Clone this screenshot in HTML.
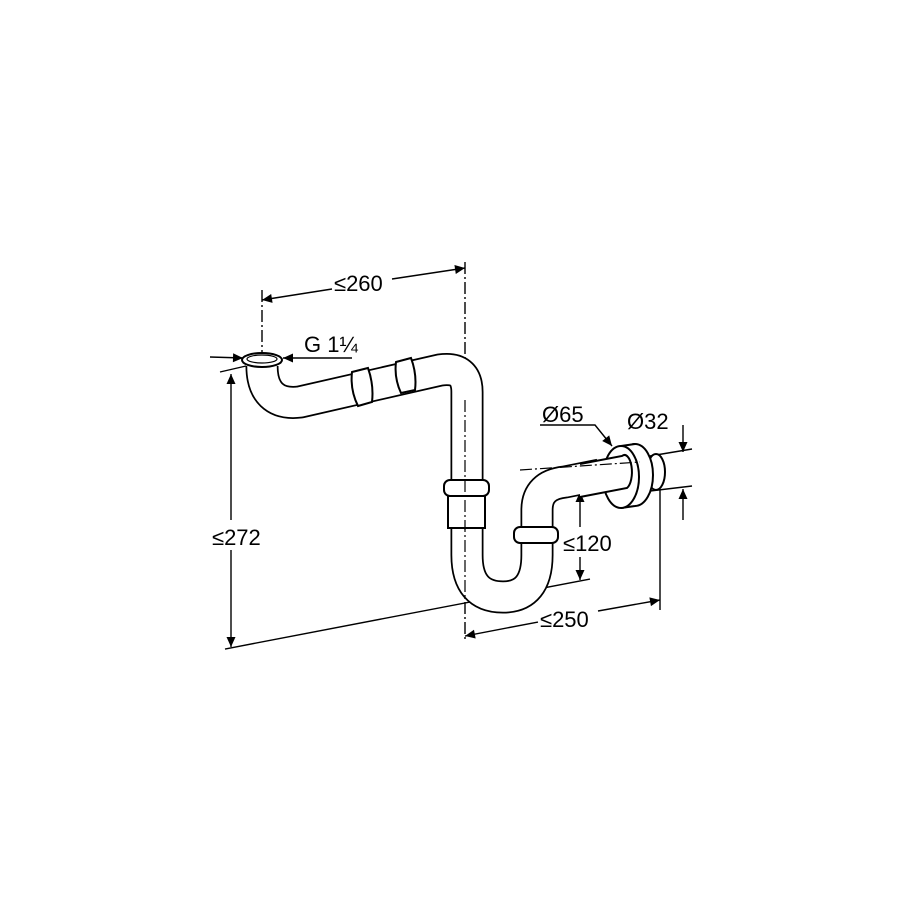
<!DOCTYPE html>
<html><head><style>
html,body{margin:0;padding:0;background:#fff;}
svg{display:block}
text{font-family:"Liberation Sans",Arial,sans-serif;font-size:22px;fill:#000}
</style></head><body>
<svg width="900" height="900" viewBox="0 0 900 900" xmlns="http://www.w3.org/2000/svg">
<defs>
<marker id="a" viewBox="0 0 10 10" refX="10" refY="5" markerWidth="18" markerHeight="10" markerUnits="userSpaceOnUse" orient="auto-start-reverse"><path d="M0,0.5 L10,5 L0,9.5 z" fill="#000"/></marker>
</defs>
<g fill="none" stroke="#000" stroke-width="1.4">
<line x1="465" y1="262" x2="465" y2="640" stroke-dasharray="12,3,2,3"/>
<line x1="262" y1="290" x2="262" y2="360" stroke-dasharray="12,3,2,3"/>
<line x1="220" y1="372" x2="246" y2="366"/>
<line x1="225" y1="649" x2="590" y2="579"/>
<line x1="660" y1="490" x2="660" y2="610"/>
<line x1="650" y1="456" x2="692" y2="449"/>
<line x1="650" y1="491" x2="692" y2="486"/>
<line x1="262" y1="300" x2="332" y2="289" marker-start="url(#a)"/>
<line x1="392" y1="279" x2="465" y2="268" marker-end="url(#a)"/>
<line x1="210" y1="357" x2="243" y2="358" marker-end="url(#a)"/>
<line x1="352" y1="358" x2="283" y2="358" marker-end="url(#a)"/>
<line x1="231" y1="374" x2="231" y2="520" marker-start="url(#a)"/>
<line x1="231" y1="550" x2="231" y2="647" marker-end="url(#a)"/>
<line x1="580" y1="492" x2="580" y2="527" marker-start="url(#a)"/>
<line x1="580" y1="557" x2="580" y2="580" marker-end="url(#a)"/>
<line x1="465" y1="636" x2="538" y2="622" marker-start="url(#a)"/>
<line x1="598" y1="611" x2="660" y2="600" marker-end="url(#a)"/>
<line x1="683" y1="425" x2="683" y2="452" marker-end="url(#a)"/>
<line x1="683" y1="520" x2="683" y2="489" marker-end="url(#a)"/>
<polyline points="540,425 595,425 612,446" marker-end="url(#a)"/>
</g>
<g fill="none" stroke-linecap="butt" stroke-linejoin="round">
<path d="M262,366 C262,392 275,405 300,402 L440,370 Q467,366 467,392 L467,555 Q467,597 503,597 Q537,597 537,555 L537,510 Q537,485 565,482 L600,475" stroke="#000" stroke-width="33"/>
<path d="M262,366 C262,392 275,405 300,402 L440,370 Q467,366 467,392 L467,555 Q467,597 503,597 Q537,597 537,555 L537,510 Q537,485 565,482 L600,475" stroke="#fff" stroke-width="29.5"/>
</g>
<line x1="465" y1="400" x2="465" y2="600" stroke="#000" stroke-width="1.2" stroke-dasharray="12,3,2,3"/>
<ellipse cx="262" cy="360" rx="20" ry="7" fill="#fff" stroke="#000" stroke-width="2"/>
<ellipse cx="262" cy="359" rx="15" ry="4" fill="#fff" stroke="#000" stroke-width="1.2"/>
<g fill="#fff" stroke="#000" stroke-width="2">
<path d="M352,372 L368,368 Q374,385 372,402 L358,406 Q350,390 352,372 z"/>
<path d="M396,362 L411,358 Q417,374 415,390 L401,393 Q394,378 396,362 z"/>
<rect x="444" y="480" width="45" height="16" rx="6"/>
<rect x="448" y="496" width="37" height="32"/>
<rect x="514" y="527" width="44" height="16" rx="6"/>
<ellipse cx="656" cy="472" rx="9" ry="18"/>
<ellipse cx="635" cy="475" rx="18" ry="31"/>
<path d="M621,446 L635,444 L635,506 L621,508 z" stroke="none"/>
<line x1="621" y1="446" x2="635" y2="444"/>
<line x1="621" y1="508" x2="635" y2="506"/>
<ellipse cx="621" cy="477" rx="18" ry="31"/>
<path d="M580,464 L622,456 A7,16 0 0 1 627,488 L580,497" stroke-width="2"/>
</g>
<line x1="520" y1="470" x2="640" y2="462" stroke="#000" stroke-width="1.2" stroke-dasharray="12,3,2,3"/>
<line x1="465" y1="480" x2="465" y2="530" stroke="#000" stroke-width="1.2" stroke-dasharray="12,3,2,3"/>
<text x="334" y="291">≤260</text>
<text x="304" y="352">G 1¼</text>
<text x="212" y="545">≤272</text>
<text x="542" y="422">Ø65</text>
<text x="627" y="429">Ø32</text>
<text x="563" y="551">≤120</text>
<text x="540" y="627">≤250</text>
</svg>
</body></html>
